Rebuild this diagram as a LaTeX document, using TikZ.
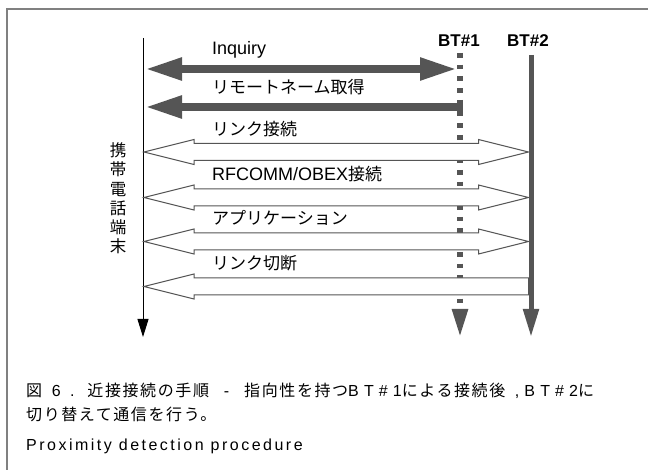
\documentclass[tikz,border=0pt]{standalone}
\usepackage{fontspec}
\setmainfont{Liberation Sans}
\newfontfamily\jp{Noto Sans CJK JP}
\newfontfamily\capl{Liberation Sans}[LetterSpace=15.6]
\newfontfamily\capw{Liberation Sans}[LetterSpace=32]
\newfontfamily\capj{Noto Sans CJK JP}[LetterSpace=10]
\usetikzlibrary{arrows.meta,calc}
\definecolor{dg}{HTML}{555555}
\definecolor{fr}{HTML}{808080}
\tikzset{
  bigtip/.tip={Triangle[width=21pt,length=37pt]},
  lifetip/.tip={Triangle[width=15pt,length=28pt]},
  phonetip/.tip={Triangle[width=11pt,length=18pt]},
}
\newcommand\dblarrow[2]{%
  \draw[hollow] (#1) -- ++(50,-12.5) -- ++(0,4) -- ($(#2)+(-50,-8.5)$) -- ++(0,-4) -- (#2)
    -- ++(-50,12.5) -- ++(0,-4) -- ($(#1)+(50,8.5)$) -- ++(0,4) -- cycle;}
\begin{document}
\begin{tikzpicture}[x=1pt,y=-1pt,
  lbl/.style={anchor=west,inner sep=0pt,text height=0.87em,text depth=0.13em,font=\fontsize{18}{21}\selectfont},
  btlbl/.style={inner sep=0pt,text height=0.87em,text depth=0.13em,font=\bfseries\fontsize{17}{20}\selectfont},
  captext/.style={anchor=west,inner sep=0pt,text height=0.87em,text depth=0.13em,font=\fontsize{16}{19}\selectfont},
  hollow/.style={draw=dg,line width=1pt,fill=white,line join=miter},
  heavy/.style={draw=dg,line width=8pt},
]
\useasboundingbox (0,0) rectangle (648,470);
% frame
\draw[fr,line width=2pt] (7,470) -- (7,9) -- (648,9);
% lifelines
\coordinate (Pt) at (143,38);  \coordinate (Pb) at (143,337);
\coordinate (B1t) at (460,53); \coordinate (B1b) at (460,337);
\coordinate (B2t) at (531,55); \coordinate (B2b) at (531,337);
\draw[line width=1pt,-phonetip] (Pt) -- (Pb);
\draw[dg,line width=5.5pt,dash pattern=on 4.7pt off 7pt,-lifetip] (B1t) -- (B1b);
\draw[dg,line width=5pt,-lifetip] (B2t) -- (B2b);
% labels of lifelines
\node[btlbl] (bt1) at (459,42.5) {BT\#1};
\node[btlbl] (bt2) at (528,42.5) {BT\#2};
\node[inner sep=0pt,align=center,font=\jp\fontsize{16.5}{19.2}\selectfont] (phone) at (118,198.5) {携\\帯\\電\\話\\端\\末};
% messages
\coordinate (m1a) at (145,69);   \coordinate (m1b) at (457,69);
\coordinate (m2a) at (145,107);  \coordinate (m2b) at (462.5,107);
\coordinate (m3a) at (144,152);  \coordinate (m3b) at (528.5,152);
\coordinate (m4a) at (144,197.5);\coordinate (m4b) at (528.5,197.5);
\coordinate (m5a) at (144,241.5);\coordinate (m5b) at (528.5,241.5);
\coordinate (m6a) at (144,286.5);\coordinate (m6b) at (528.5,286.5);
\draw[heavy,bigtip-bigtip] (m1a) -- (m1b);
\draw[heavy,bigtip-] (m2a) -- (m2b);
\dblarrow{m3a}{m3b}
\dblarrow{m4a}{m4b}
\dblarrow{m5a}{m5b}
\draw[hollow] (m6a) -- ++(50,-12.5) -- ++(0,4) -- ($(m6b)+(0,-8.5)$) -- ($(m6b)+(0,8.5)$)
  -- ($(m6a)+(50,8.5)$) -- ++(0,4) -- cycle;
\node[lbl] (t1) at (212,51) {Inquiry};
\node[lbl] (t2) at (212,89.5) {\jp\fontsize{17}{20}\selectfont リモートネーム取得};
\node[lbl] (t3) at (212,131.5) {\jp\fontsize{17}{20}\selectfont リンク接続};
\node[lbl] (t4) at (212,176.5) {RFCOMM/OBEX{\jp\fontsize{17}{20}\selectfont 接続}};
\node[lbl] (t5) at (212,220.5) {\jp\fontsize{17}{20}\selectfont アプリケーション};
\node[lbl] (t6) at (212,265.5) {\jp\fontsize{17}{20}\selectfont リンク切断};
% caption
\node[captext] (c1) at (26,393) {{\capj 図}{\capw\ 6 . }{\capj 近接接続の手順}{\capl\hspace{8pt} - \hspace{8pt}}{\capj 指向性を持つ}{\capw BT\#1}{\capj による接続後}{\capw\ ,BT\#2}{\capj に}};
\node[captext] (c2) at (26,417) {\capj 切り替えて通信を行う。};
\node[captext] (c3) at (26,447) {\capl Proximity detection procedure};
\end{tikzpicture}
\end{document}
